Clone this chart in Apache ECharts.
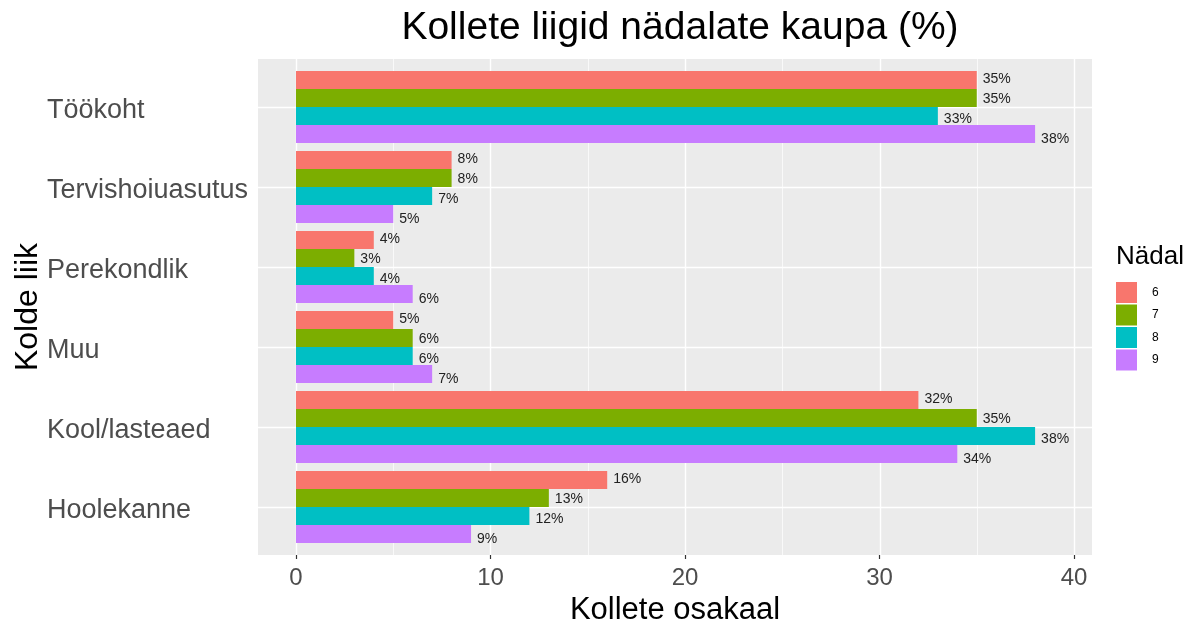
<!DOCTYPE html>
<html>
<head>
<meta charset="utf-8">
<script src="https://cdn.jsdelivr.net/npm/echarts@6/dist/echarts.min.js"></script>
<style>
  html, body { margin: 0; padding: 0; background: #fff; }
  #main { width: 1187px; height: 619px; }
</style>
</head>
<body>
<div id="main"></div>
<script>
// 数据
var categories = ['Töökoht', 'Tervishoiuasutus', 'Perekondlik', 'Muu', 'Kool/lasteaed', 'Hoolekanne'];
var weeks = ['6', '7', '8', '9'];
var week6 = [35, 8, 4, 5, 32, 16];
var week7 = [35, 8, 3, 6, 35, 13];
var week8 = [33, 7, 4, 6, 38, 12];
var week9 = [38, 5, 6, 7, 34, 9];
var xTicks = [0, 10, 20, 30, 40];
var xMinor = [5, 15, 25, 35];

var colors = ['#F8766D', '#7CAE00', '#00BFC4', '#C77CFF'];
var font = 'Liberation Sans, Arial, sans-serif';
var seriesValues = [week6, week7, week8, week9];
var labelShift = [-1, 1, 3, 5];

// 背景网格线
var gridLines = [];
xTicks.forEach(function (v) {
    gridLines.push({ xAxis: v, lineStyle: { color: '#fff', width: 1.4, type: 'solid' } });
});
xMinor.forEach(function (v) {
    gridLines.push({ xAxis: v, lineStyle: { color: '#fff', width: 0.7, type: 'solid' } });
});
categories.forEach(function (c, i) {
    gridLines.push({ yAxis: i + 1, lineStyle: { color: '#fff', width: 1.4, type: 'solid' } });
});

var series = [{
    type: 'scatter',
    xAxisIndex: 0,
    yAxisIndex: 0,
    data: [],
    silent: true,
    z: 0,
    markLine: {
        silent: true,
        symbol: 'none',
        label: { show: false },
        animation: false,
        data: gridLines
    }
}];

weeks.forEach(function (w, k) {
    series.push({
        name: w,
        type: 'bar',
        xAxisIndex: 1,
        yAxisIndex: 1,
        z: 5,
        data: seriesValues[k],
        barCategoryGap: '10%',
        barGap: '0%',
        itemStyle: { color: colors[k] },
        label: {
            show: true,
            position: 'right',
            distance: 6,
            offset: [0, labelShift[k]],
            formatter: '{c}%',
            fontFamily: font,
            fontSize: 14,
            color: '#222'
        }
    });
});

var option = {
    animation: false,
    textStyle: { fontFamily: font },
    title: [{
        text: 'Kollete liigid nädalate kaupa (%)',
        left: 675,
        top: 4,
        textAlign: 'center',
        textStyle: { fontFamily: font, fontSize: 39, fontWeight: 'normal', color: '#000' }
    }, {
        text: 'Nädal',
        left: 1111,
        top: 239,
        textStyle: { fontFamily: font, fontSize: 26, fontWeight: 'normal', color: '#000' }
    }],
    legend: {
        data: weeks,
        orient: 'vertical',
        left: 1116,
        top: 282,
        padding: 0,
        itemWidth: 21,
        itemHeight: 21,
        itemGap: 1.5,
        icon: 'rect',
        textStyle: { fontFamily: font, fontSize: 12, color: '#000', padding: [0, 0, 0, 10] }
    },
    grid: [{
        left: 258, top: 59, width: 834, height: 496,
        outerBoundsMode: 'none', containLabel: false,
        show: true, backgroundColor: '#EBEBEB', borderWidth: 0
    }, {
        left: 296, top: 67, width: 778, height: 480,
        outerBoundsMode: 'none', containLabel: false
    }],
    xAxis: [{
        gridIndex: 0, type: 'value', min: -1.95, max: 40.9, show: false
    }, {
        gridIndex: 1,
        type: 'value',
        min: 0,
        max: 40,
        interval: 10,
        offset: 8,
        name: 'Kollete osakaal',
        nameLocation: 'middle',
        nameGap: 30,
        nameTextStyle: { fontFamily: font, fontSize: 31, color: '#000', padding: [0, 20, 0, 0] },
        axisLine: { show: false },
        axisTick: { show: true, length: 4, lineStyle: { color: '#333', width: 1.2 } },
        axisLabel: { fontFamily: font, fontSize: 24, color: '#4D4D4D', margin: 11 },
        splitLine: { show: false }
    }],
    yAxis: [{
        gridIndex: 0, type: 'value', min: 0.4, max: 6.6, inverse: true, show: false
    }, {
        gridIndex: 1,
        type: 'category',
        inverse: true,
        data: categories,
        name: 'Kolde liik',
        nameLocation: 'middle',
        nameRotate: 90,
        nameGap: 252,
        nameMoveOverlap: false,
        nameTextStyle: { fontFamily: font, fontSize: 32, color: '#000' },
        axisLine: { show: false },
        axisTick: { show: false },
        axisLabel: {
            align: 'left',
            margin: 249,
            formatter: '{v|{value}}',
            rich: {
                v: { fontFamily: font, fontSize: 27, color: '#4D4D4D', padding: [7, 0, 0, 0] }
            }
        },
        splitLine: { show: false }
    }],
    series: series
};

var chart = echarts.init(document.getElementById('main'));
chart.setOption(option);
</script>
</body>
</html>
